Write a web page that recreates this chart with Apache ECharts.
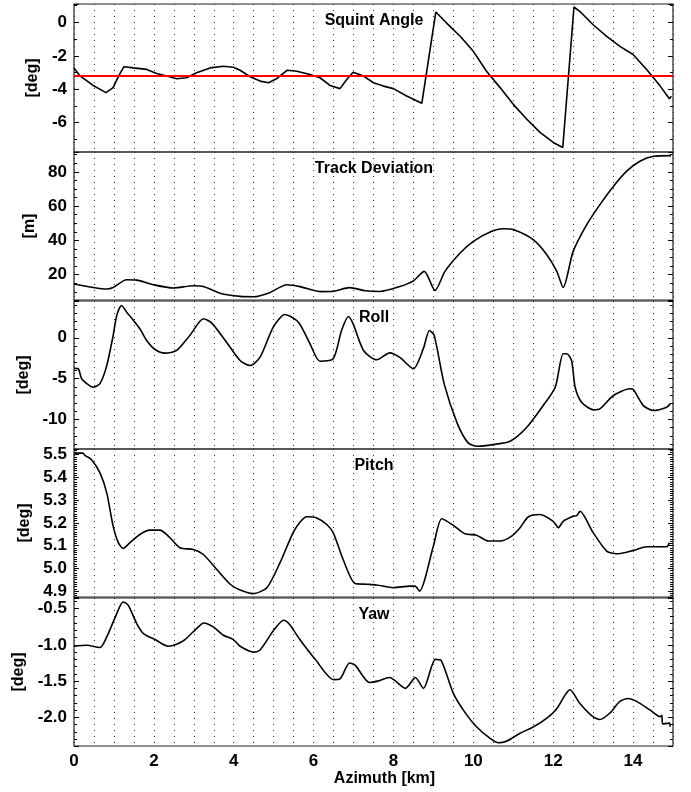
<!DOCTYPE html>
<html>
<head>
<meta charset="utf-8">
<script src="https://cdn.jsdelivr.net/npm/echarts@6.0.0/dist/echarts.min.js"></script>
<style>
  html, body { margin: 0; padding: 0; background: #fff; }
  #main { width: 691px; height: 792px; }
</style>
</head>
<body>
<div id="main"></div>
<script>
// azimuth [km] and values
const squintKm  = [0, 0.15, 0.48, 0.8, 0.98, 1.12, 1.25, 1.49, 1.82, 2.07, 2.32, 2.57, 2.82, 3.07, 3.41, 3.74, 3.99, 4.16, 4.41, 4.66, 4.87, 5.07, 5.34, 5.58, 5.91, 6.16, 6.41, 6.66, 6.83, 6.99, 7.25, 7.5, 7.75, 8.0, 8.33, 8.71, 8.76, 9.06, 9.33, 9.67, 10.0, 10.33, 10.67, 11.0, 11.34, 11.67, 12.0, 12.24, 12.28, 12.52, 12.67, 13.0, 13.34, 13.67, 14.0, 14.34, 14.68, 14.91, 14.96];
const squintDeg = [-2.72, -3.2, -3.77, -4.2, -3.9, -3.2, -2.65, -2.72, -2.81, -3.05, -3.21, -3.37, -3.31, -3.01, -2.72, -2.62, -2.68, -2.86, -3.25, -3.51, -3.61, -3.37, -2.86, -2.92, -3.11, -3.31, -3.77, -3.96, -3.41, -2.98, -3.21, -3.61, -3.81, -3.96, -4.4, -4.84, -4.86, 0.62, -0.04, -0.83, -1.73, -2.92, -3.9, -4.9, -5.79, -6.58, -7.18, -7.48, -7.5, 0.92, 0.65, -0.14, -0.83, -1.43, -1.92, -2.82, -3.81, -4.56, -4.42];
const squintRef = -3.2;

const trackKm = [0, 0.48, 0.82, 0.98, 1.32, 1.57, 1.99, 2.49, 2.99, 3.24, 3.66, 4.16, 4.5, 4.9, 5.33, 5.66, 6.16, 6.5, 6.9, 7.3, 7.66, 8.16, 8.5, 8.77, 9.04, 9.29, 9.67, 10.0, 10.42, 10.75, 11.0, 11.5, 11.84, 12.09, 12.25, 12.5, 12.84, 13.17, 13.51, 13.84, 14.17, 14.51, 14.95];
const trackM  = [14.5, 12.5, 11.6, 12.5, 17.0, 16.8, 14.1, 12.2, 13.5, 13.1, 9.2, 7.3, 7.1, 9.5, 14.1, 13.0, 10.1, 10.3, 12.4, 10.6, 10.2, 13.1, 16.4, 21.9, 10.8, 21.9, 32.6, 39.4, 44.9, 46.8, 46.3, 40.4, 31.6, 21.9, 12.5, 33.6, 49.2, 60.9, 71.6, 80.4, 86.2, 89.1, 89.5];

const rollKm  = [0, 0.11, 0.19, 0.32, 0.48, 0.65, 0.82, 0.98, 1.07, 1.19, 1.32, 1.49, 1.65, 1.82, 2.03, 2.28, 2.57, 2.9, 3.24, 3.45, 3.82, 4.16, 4.41, 4.66, 4.99, 5.28, 5.62, 5.91, 6.16, 6.49, 6.7, 6.87, 6.99, 7.25, 7.58, 7.91, 8.16, 8.5, 8.75, 8.9, 9.02, 9.27, 9.6, 9.87, 10.1, 10.5, 10.92, 11.34, 11.75, 12.05, 12.25, 12.34, 12.46, 12.55, 12.71, 13.01, 13.17, 13.51, 13.92, 14.01, 14.26, 14.51, 14.84, 14.93];
const rollDeg = [-3.72, -3.8, -5.0, -5.6, -6.05, -5.6, -3.4, 0.28, 2.73, 3.95, 3.13, 2.12, 1.1, -0.33, -1.43, -1.88, -1.55, 0.28, 2.33, 1.8, -0.54, -2.78, -3.39, -2.37, 1.3, 2.85, 1.91, -0.73, -2.86, -2.57, 0.89, 2.61, 1.71, -1.55, -2.69, -1.84, -2.4, -3.79, -1.3, 0.89, 0.3, -5.63, -10.5, -12.85, -13.27, -13.06, -12.66, -10.94, -8.29, -6.05, -1.96, -1.96, -2.78, -6.05, -7.88, -8.81, -8.69, -7.06, -6.24, -6.36, -8.29, -8.9, -8.49, -8.08];

const pitchKm  = [0, 0.11, 0.22, 0.28, 0.44, 0.65, 0.82, 0.98, 1.11, 1.23, 1.4, 1.65, 1.9, 2.15, 2.4, 2.65, 2.99, 3.24, 3.57, 3.91, 4.16, 4.49, 4.83, 5.16, 5.53, 5.83, 6.08, 6.33, 6.49, 6.74, 7.04, 7.33, 7.58, 8.0, 8.41, 8.54, 8.65, 9.0, 9.21, 9.5, 9.79, 10.08, 10.38, 10.67, 10.96, 11.17, 11.38, 11.67, 12.0, 12.13, 12.25, 12.5, 12.59, 12.67, 13.0, 13.34, 13.59, 14.01, 14.34, 14.84, 14.91];
const pitchDeg = [5.5, 5.507, 5.507, 5.496, 5.478, 5.42, 5.332, 5.186, 5.113, 5.088, 5.113, 5.149, 5.168, 5.168, 5.135, 5.091, 5.083, 5.061, 4.996, 4.93, 4.905, 4.889, 4.915, 5.025, 5.171, 5.227, 5.222, 5.193, 5.157, 5.039, 4.933, 4.93, 4.927, 4.915, 4.922, 4.922, 4.9, 5.098, 5.218, 5.189, 5.152, 5.146, 5.12, 5.12, 5.142, 5.179, 5.227, 5.237, 5.207, 5.179, 5.207, 5.229, 5.232, 5.251, 5.157, 5.076, 5.064, 5.079, 5.095, 5.095, 5.113];

const yawKm  = [0, 0.32, 0.65, 0.82, 1.07, 1.23, 1.36, 1.57, 1.74, 2.03, 2.36, 2.57, 2.78, 3.07, 3.25, 3.49, 3.74, 3.99, 4.16, 4.5, 4.66, 5.0, 5.25, 5.4, 5.66, 6.04, 6.5, 6.66, 6.9, 7.04, 7.4, 7.6, 7.9, 8.3, 8.55, 8.75, 9.05, 9.2, 9.5, 9.75, 10.08, 10.42, 10.63, 10.83, 11.17, 11.51, 11.84, 12.09, 12.3, 12.42, 12.67, 12.97, 13.17, 13.42, 13.67, 13.88, 14.09, 14.43, 14.68, 14.72, 14.74, 14.91, 14.93];
const yawDeg = [-1.019, -1.005, -1.036, -0.891, -0.569, -0.409, -0.455, -0.706, -0.844, -0.927, -1.019, -0.991, -0.927, -0.775, -0.698, -0.753, -0.867, -0.927, -1.019, -1.1, -1.07, -0.8, -0.66, -0.72, -0.93, -1.2, -1.48, -1.47, -1.25, -1.28, -1.52, -1.5, -1.45, -1.6, -1.45, -1.6, -1.2, -1.22, -1.67, -1.9, -2.13, -2.29, -2.35, -2.33, -2.22, -2.13, -2.01, -1.88, -1.69, -1.62, -1.81, -1.98, -2.03, -1.94, -1.78, -1.74, -1.78, -1.9, -1.99, -1.97, -2.09, -2.08, -2.13];

const panelTitles = ['Squint Angle', 'Track Deviation', 'Roll', 'Pitch', 'Yaw'];
const yNames = ['[deg]', '[m]', '[deg]', '[deg]', '[deg]'];
const xName = 'Azimuth [km]';

const FONT = 'Liberation Sans, Arial, Helvetica, sans-serif';
let myCharts = echarts.init(document.getElementById('main'), null, { renderer: 'canvas' });

// panel layout (px) and axis ranges
const gridTop = [4, 152, 301, 449, 598];
const gridH = 148;
const yRange = [
  { min: -7.75, max: 1.1, split: 4, minor: 2, dec: 0, gap: 31 },
  { min: 5.2, max: 91.6, split: 4, minor: 4, dec: 0, gap: 36 },
  { min: -13.6, max: 4.5, split: 4, minor: 5, dec: 0, gap: 41 },
  { min: 4.874, max: 5.525, split: 6, minor: 10, dec: 1, gap: 41 },
  { min: -2.395, max: -0.354, split: 4, minor: 5, dec: 1, gap: 46 }
];
const panelData = [
  [squintKm, squintDeg], [trackKm, trackM], [rollKm, rollDeg], [pitchKm, pitchDeg], [yawKm, yawDeg]
];

let grids = [], xAxes = [], yAxes = [], series = [], titles = [];
gridTop.forEach((top, i) => {
  grids.push({ left: 74, right: 18, top: top, height: gridH, show: true, borderColor: '#222', borderWidth: 1.2, backgroundColor: 'transparent' });
  xAxes.push({
    gridIndex: i, type: 'value', min: 0, max: 15, interval: 0.5,
    axisLine: { show: false }, axisTick: { show: false },
    splitLine: { show: true, lineStyle: { color: '#333', width: 1, type: [1, 5] } },
    axisLabel: {
      show: i === 4, margin: 7, color: '#000', fontSize: 17, fontWeight: 'bold', fontFamily: FONT,
      formatter: v => (Math.abs(v % 2) < 1e-6 && v < 15 ? String(v) : '')
    },
    name: i === 4 ? xName : '', nameLocation: 'middle', nameGap: 23,
    nameTextStyle: { color: '#000', fontSize: 16, fontWeight: 'bold', fontFamily: FONT, padding: [0, 0, 0, 22] }
  });
  const r = yRange[i];
  const common = {
    gridIndex: i, type: 'value', min: r.min, max: r.max, splitNumber: r.split, scale: true,
    axisLine: { show: false }, splitLine: { show: false },
    axisTick: { show: true, inside: true, length: 5, lineStyle: { color: '#000' } },
    minorTick: { show: true, splitNumber: r.minor, length: 3, lineStyle: { color: '#000' } }
  };
  yAxes.push(Object.assign({}, common, {
    position: 'left',
    axisLabel: {
      show: true, margin: 7, color: '#000', fontSize: 17, fontWeight: 'bold', fontFamily: FONT,
      showMinLabel: false, showMaxLabel: false,
      formatter: v => Number(v).toFixed(r.dec)
    },
    name: yNames[i], nameLocation: 'middle', nameGap: r.gap, nameRotate: 90,
    nameTextStyle: { color: '#000', fontSize: 16, fontWeight: 'bold', fontFamily: FONT }
  }));
  yAxes.push(Object.assign({}, common, {
    position: 'right', axisLabel: { show: false }
  }));
  const xs = panelData[i][0], ys = panelData[i][1];
  let s = {
    type: 'line', xAxisIndex: i, yAxisIndex: 2 * i,
    data: xs.map((x, k) => [x, ys[k]]),
    showSymbol: false, smooth: i === 0 ? false : 0.25, silent: true,
    lineStyle: { color: '#000', width: 1.6 }
  };
  if (i === 0) {
    s.markLine = {
      silent: true, symbol: 'none', label: { show: false },
      lineStyle: { color: '#ff0000', width: 2, type: 'solid' },
      data: [{ yAxis: squintRef }]
    };
  }
  series.push(s);
  titles.push({
    text: panelTitles[i], left: 374, top: top + 9, textAlign: 'center', padding: 0,
    textStyle: { color: '#000', fontSize: 16, fontWeight: 'bold', fontFamily: FONT }
  });
});

myCharts.setOption({
  animation: false,
  backgroundColor: '#fff',
  title: titles,
  grid: grids,
  xAxis: xAxes,
  yAxis: yAxes,
  series: series
});
</script>
</body>
</html>
